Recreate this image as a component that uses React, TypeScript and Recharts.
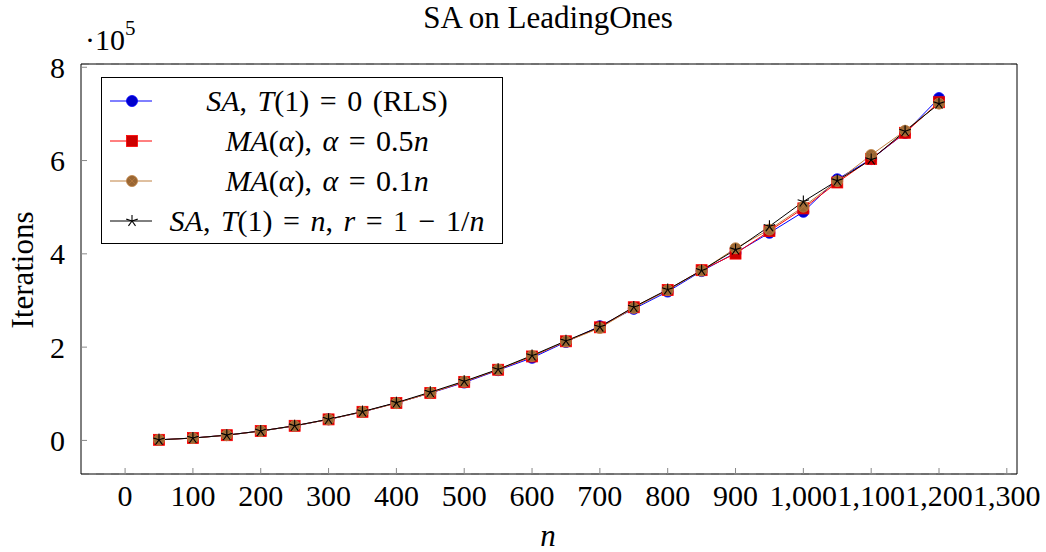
import React from 'react';
import { LineChart, Line, XAxis, YAxis, CartesianGrid, Legend } from 'recharts';

// problem size n
const nValues = [50, 100, 150, 200, 250, 300, 350, 400, 450, 500, 550, 600, 650, 700, 750, 800, 850, 900, 950, 1000, 1050, 1100, 1150, 1200];

// iterations per algorithm
const saRls = [1300, 5100, 11300, 20200, 31000, 45200, 61000, 80500, 101500, 124000, 150500, 177000, 211000, 245000, 282000, 319000, 363000, 402000, 445000, 490000, 560000, 603000, 659000, 734000];
const maHalf = [1250, 5000, 11200, 20100, 31300, 45100, 61300, 80200, 101800, 125500, 151500, 180000, 212500, 242500, 285500, 322500, 365000, 400500, 449000, 497500, 553000, 603500, 659500, 725000];
const maTenth = [1250, 5000, 11300, 20000, 31200, 45000, 61200, 80000, 102000, 126000, 151800, 181000, 212000, 241000, 284000, 322000, 364000, 412000, 452000, 501000, 556000, 612000, 664000, 722000];
const saCooling = [1300, 5100, 11300, 20300, 31500, 45500, 61800, 81000, 103500, 127000, 152500, 182000, 213500, 243500, 286000, 323500, 364500, 409000, 459000, 512000, 557000, 602000, 663000, 722000];

const xTicks = [0, 100, 200, 300, 400, 500, 600, 700, 800, 900, 1000, 1100, 1200, 1300];
const yTicks = [0, 200000, 400000, 600000, 800000];

const data = nValues.map((n, i) => ({
  n,
  saRls: saRls[i],
  maHalf: maHalf[i],
  maTenth: maTenth[i],
  saCooling: saCooling[i],
}));

const FONT = '"Liberation Serif", "DejaVu Serif", serif';
const xDomain = [-65, 1315];
const yDomain = [-72000, 807000];

const BLUE = '#0000ff';
const RED = '#ff0000';
const BROWN = '#bf8040';

const CircleDot = (props: any) => {
  const { cx, cy, index, fill, stroke } = props;
  if (cx == null || cy == null) return null;
  return <circle key={index} cx={cx} cy={cy} r={5.5} fill={fill} stroke={stroke} strokeWidth={0.8} />;
};

const SquareDot = (props: any) => {
  const { cx, cy, index } = props;
  if (cx == null || cy == null) return null;
  return <rect key={index} x={cx - 5.5} y={cy - 5.5} width={11} height={11} fill="#cc0000" stroke={RED} strokeWidth={0.8} />;
};

const OtimesDot = (props: any) => {
  const { cx, cy, index } = props;
  if (cx == null || cy == null) return null;
  const d = 3.9;
  return (
    <g key={index}>
      <circle cx={cx} cy={cy} r={5.5} fill="#996633" stroke={BROWN} strokeWidth={0.8} />
      <line x1={cx - d} y1={cy - d} x2={cx + d} y2={cy + d} stroke={BROWN} strokeWidth={0.6} />
      <line x1={cx - d} y1={cy + d} x2={cx + d} y2={cy - d} stroke={BROWN} strokeWidth={0.6} />
    </g>
  );
};

const StarDot = (props: any) => {
  const { cx, cy, index } = props;
  if (cx == null || cy == null) return null;
  const r = 6;
  return (
    <g key={index} stroke="#000" strokeWidth={1.1}>
      {[0, 1, 2, 3, 4].map((k) => {
        const a = ((-90 + 72 * k) * Math.PI) / 180;
        return <line key={k} x1={cx} y1={cy} x2={cx + r * Math.cos(a)} y2={cy + r * Math.sin(a)} />;
      })}
    </g>
  );
};

const legendItems = [
  {
    key: 'saRls',
    color: BLUE,
    Dot: (p: any) => <CircleDot {...p} fill="#0000cc" stroke={BLUE} />,
    label: (
      <>
        <i>SA</i>, <i>T</i>(1) = 0 (RLS)
      </>
    ),
  },
  {
    key: 'maHalf',
    color: RED,
    Dot: SquareDot,
    label: (
      <>
        <i>MA</i>(<i>α</i>), <i>α</i> = 0.5<i>n</i>
      </>
    ),
  },
  {
    key: 'maTenth',
    color: BROWN,
    Dot: OtimesDot,
    label: (
      <>
        <i>MA</i>(<i>α</i>), <i>α</i> = 0.1<i>n</i>
      </>
    ),
  },
  {
    key: 'saCooling',
    color: '#000',
    Dot: StarDot,
    label: (
      <>
        <i>SA</i>, <i>T</i>(1) = <i>n</i>, <i>r</i> = 1 − 1/<i>n</i>
      </>
    ),
  },
];

const LegendBox = () => (
  <div
    style={{
      border: '1px solid #000',
      background: '#fff',
      width: 402,
      height: 167,
      boxSizing: 'border-box',
      paddingTop: 3,
      fontFamily: FONT,
      fontSize: 30,
      wordSpacing: 3,
      color: '#000',
    }}
  >
    {legendItems.map((item) => (
      <div key={item.key} style={{ display: 'flex', alignItems: 'center', height: 40 }}>
        <svg width={50} height={40} style={{ flex: 'none' }}>
          <line x1={8} y1={20} x2={50} y2={20} stroke={item.color} strokeWidth={1} />
          <item.Dot cx={30} cy={20} index={0} />
        </svg>
        <div style={{ flex: 1, textAlign: 'center', lineHeight: '40px', whiteSpace: 'nowrap' }}>{item.label}</div>
      </div>
    ))}
  </div>
);

const tickStyle = { fontFamily: FONT, fontSize: 30, fill: '#000' };

export default function App() {
  return (
    <div style={{ position: 'absolute', left: 0, top: 0, width: 1046, height: 552, background: '#fff' }}>
      <LineChart width={1046} height={552} data={data} margin={{ top: 63, right: 28, bottom: 0, left: 0 }}>
        <CartesianGrid vertical={false} stroke="#c4c4c4" strokeDasharray="8 7" />
        <XAxis
          xAxisId="bottom"
          dataKey="n"
          type="number"
          domain={xDomain}
          allowDataOverflow
          ticks={xTicks}
          interval={0}
          height={78}
          tickSize={-6}
          tickMargin={17}
          tick={tickStyle}
          tickFormatter={(v: number) => v.toLocaleString('en-US')}
          axisLine={{ stroke: '#000' }}
          tickLine={{ stroke: '#888' }}
        />
        <XAxis
          xAxisId="top"
          orientation="top"
          dataKey="n"
          type="number"
          domain={xDomain}
          allowDataOverflow
          ticks={xTicks}
          interval={0}
          height={1}
          tickSize={-6}
          tick={false}
          axisLine={{ stroke: '#000' }}
          tickLine={{ stroke: '#888' }}
        />
        <YAxis
          yAxisId="left"
          type="number"
          domain={yDomain}
          allowDataOverflow
          ticks={yTicks}
          interval={0}
          width={81}
          tickSize={-6}
          tickMargin={22}
          tick={tickStyle}
          tickFormatter={(v: number) => String(v / 100000)}
          axisLine={{ stroke: '#000' }}
          tickLine={{ stroke: '#888' }}
        />
        <YAxis
          yAxisId="right"
          orientation="right"
          type="number"
          domain={yDomain}
          allowDataOverflow
          ticks={yTicks}
          interval={0}
          width={1}
          tickSize={-6}
          tick={false}
          axisLine={{ stroke: '#000' }}
          tickLine={{ stroke: '#888' }}
        />
        <Line
          xAxisId="bottom"
          yAxisId="left"
          dataKey="saRls"
          stroke={BLUE}
          strokeWidth={1}
          dot={(p: any) => <CircleDot {...p} key={p.index} fill="#0000cc" stroke={BLUE} />}
          isAnimationActive={false}
        />
        <Line
          xAxisId="bottom"
          yAxisId="left"
          dataKey="maHalf"
          stroke={RED}
          strokeWidth={1}
          dot={(p: any) => <SquareDot {...p} key={p.index} />}
          isAnimationActive={false}
        />
        <Line
          xAxisId="bottom"
          yAxisId="left"
          dataKey="maTenth"
          stroke={BROWN}
          strokeWidth={1}
          dot={(p: any) => <OtimesDot {...p} key={p.index} />}
          isAnimationActive={false}
        />
        <Line
          xAxisId="top"
          yAxisId="right"
          dataKey="saCooling"
          stroke="#000"
          strokeWidth={1}
          dot={(p: any) => <StarDot {...p} key={p.index} />}
          isAnimationActive={false}
        />
        <Legend
          layout="vertical"
          align="center"
          verticalAlign="middle"
          content={() => <LegendBox />}
          wrapperStyle={{ top: 77, left: 101, width: 'auto', height: 'auto' }}
        />
      </LineChart>
      <svg
        width={1046}
        height={552}
        style={{ position: 'absolute', left: 0, top: 0, pointerEvents: 'none' }}
        fontFamily={FONT}
      >
        <text x={548} y={28} fontSize={31} textAnchor="middle">
          SA on LeadingOnes
        </text>
        <text x={85} y={50} fontSize={30}>
          ·10
          <tspan fontSize={21} dy={-15}>
            5
          </tspan>
        </text>
        <text x={548} y={546} fontSize={31} fontStyle="italic" textAnchor="middle">
          n
        </text>
        <text transform="translate(33,270) rotate(-90)" fontSize={31} textAnchor="middle">
          Iterations
        </text>
      </svg>
    </div>
  );
}
